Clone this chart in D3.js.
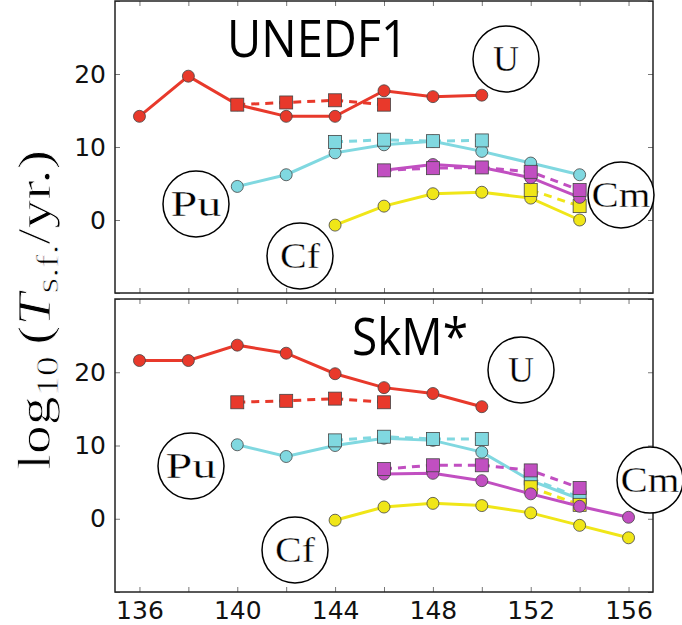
<!DOCTYPE html>
<html><head><meta charset="utf-8">
<script src="https://cdn.jsdelivr.net/npm/d3@7"></script>
<style>body{margin:0;background:#fff}svg{display:block}</style>
</head><body>
<script>
// ---------- data ----------
const xTicks = [136,138,140,142,144,146,148,150,152,154,156];
const xLabels = [136,140,144,148,152,156];
const yTicks = [-10,0,10,20,30];
const yLabels = [0,10,20];
const panelTitles = ["UNEDF1","SkM*"];
const elements = ["U","Pu","Cf","Cm"];
const colors = ["#e8392b","#80d8e0","#f0e618","#c14fc1"]; // U, Pu, Cf, Cm

// UNEDF1 panel
const un_U_circ_N = [136,138,140,142,144,146,148,150];
const un_U_circ_v = [14.2,19.7,15.8,14.2,14.2,17.7,16.9,17.1];
const un_U_sq_N = [140,142,144,146];
const un_U_sq_v = [15.8,16.1,16.4,15.8];
const un_Pu_circ_N = [140,142,144,146,148,150,152,154];
const un_Pu_circ_v = [4.6,6.2,9.2,10.3,10.8,9.4,7.8,6.2];
const un_Pu_sq_N = [144,146,148,150];
const un_Pu_sq_v = [10.7,11.0,10.8,10.9];
const un_Cf_circ_N = [144,146,148,150,152,154];
const un_Cf_circ_v = [-0.7,1.9,3.6,3.8,3.0,0.0];
const un_Cf_sq_N = [152,154];
const un_Cf_sq_v = [4.1,1.9];
const un_Cm_circ_N = [146,148,150,152,154];
const un_Cm_circ_v = [6.8,7.6,7.2,5.8,3.1];
const un_Cm_sq_N = [146,148,150,152,154];
const un_Cm_sq_v = [6.8,7.1,7.2,6.6,4.1];

// SkM* panel
const sk_U_circ_N = [136,138,140,142,144,146,148,150];
const sk_U_circ_v = [21.6,21.6,23.7,22.6,19.8,17.9,17.1,15.3];
const sk_U_sq_N = [140,142,144,146];
const sk_U_sq_v = [15.9,16.1,16.4,15.9];
const sk_Pu_circ_N = [140,142,144,146,148,150,152,154];
const sk_Pu_circ_v = [10.1,8.5,10.0,11.0,10.7,9.1,5.2,2.7];
const sk_Pu_sq_N = [144,146,148,150];
const sk_Pu_sq_v = [10.7,11.2,10.9,10.9];
const sk_Pu_sq2_N = [152,154];
const sk_Pu_sq2_v = [5.5,2.9];
const sk_Cf_circ_N = [144,146,148,150,152,154,156];
const sk_Cf_circ_v = [-0.2,1.6,2.1,1.8,0.8,-0.9,-2.6];
const sk_Cf_sq_N = [152,154];
const sk_Cf_sq_v = [4.3,1.9];
const sk_Cm_circ_N = [146,148,150,152,154,156];
const sk_Cm_circ_v = [6.1,6.2,5.2,3.4,1.7,0.2];
const sk_Cm_sq_N = [146,148,150,152,154];
const sk_Cm_sq_v = [6.8,7.3,7.3,6.6,4.2];

const zip = (N, v) => N.map((n, i) => ({N: n, v: v[i]}));

const panels = [
  { title: panelTitles[0], series: [
      {el:0, type:"circ", pts: zip(un_U_circ_N, un_U_circ_v)},
      {el:0, type:"sq", pts: zip(un_U_sq_N, un_U_sq_v)},
      {el:1, type:"circ", pts: zip(un_Pu_circ_N, un_Pu_circ_v)},
      {el:1, type:"sq", pts: zip(un_Pu_sq_N, un_Pu_sq_v)},
      {el:2, type:"circ", pts: zip(un_Cf_circ_N, un_Cf_circ_v)},
      {el:2, type:"sq", pts: zip(un_Cf_sq_N, un_Cf_sq_v)},
      {el:3, type:"circ", pts: zip(un_Cm_circ_N, un_Cm_circ_v)},
      {el:3, type:"sq", pts: zip(un_Cm_sq_N, un_Cm_sq_v)}
    ],
    tags: [{t:elements[0], cx:506, cy:59, w:26},{t:elements[1], cx:196, cy:204, w:51},{t:elements[2], cx:300, cy:256, w:40},{t:elements[3], cx:621, cy:195, w:59}],
    titleX: 227, titleY: 57, titleW: 181
  },
  { title: panelTitles[1], series: [
      {el:0, type:"circ", pts: zip(sk_U_circ_N, sk_U_circ_v)},
      {el:0, type:"sq", pts: zip(sk_U_sq_N, sk_U_sq_v)},
      {el:1, type:"circ", pts: zip(sk_Pu_circ_N, sk_Pu_circ_v)},
      {el:1, type:"sq", pts: zip(sk_Pu_sq_N, sk_Pu_sq_v)},
      {el:1, type:"sq", pts: zip(sk_Pu_sq2_N, sk_Pu_sq2_v)},
      {el:2, type:"circ", pts: zip(sk_Cf_circ_N, sk_Cf_circ_v)},
      {el:2, type:"sq", pts: zip(sk_Cf_sq_N, sk_Cf_sq_v)},
      {el:3, type:"circ", pts: zip(sk_Cm_circ_N, sk_Cm_circ_v)},
      {el:3, type:"sq", pts: zip(sk_Cm_sq_N, sk_Cm_sq_v)}
    ],
    tags: [{t:elements[0], cx:521, cy:370, w:26},{t:elements[1], cx:191, cy:466, w:51},{t:elements[2], cx:295, cy:550, w:40},{t:elements[3], cx:650, cy:480, w:59}],
    titleX: 352, titleY: 355, titleW: 116
  }
];

// ---------- layout ----------
const W = 682, H = 625;
const left = 115, right = 653;
const panelY = [[1, 293], [299, 592]];

const svg = d3.select("body").append("svg").attr("width", W).attr("height", H);
const x = d3.scaleLinear().domain([135, 157]).range([left, right]);

panels.forEach((p, pi) => {
  const [top, bot] = panelY[pi];
  const y = d3.scaleLinear().domain([-10, 30]).range([bot, top]);
  const g = svg.append("g");

  const tickLen = 5;
  const axL = d3.axisLeft(y).tickValues(yTicks).tickSize(-tickLen).tickFormat(d => yLabels.includes(d) ? d : "").tickPadding(9);
  const axR = d3.axisRight(y).tickValues(yTicks).tickSize(-tickLen).tickFormat("");
  const axB = d3.axisBottom(x).tickValues(xTicks).tickSize(-tickLen).tickFormat(d => (pi === 1 && xLabels.includes(d)) ? d : "").tickPadding(9);
  const axT = d3.axisTop(x).tickValues(xTicks).tickSize(-tickLen).tickFormat("");
  [[axL, `translate(${left},0)`], [axR, `translate(${right},0)`], [axB, `translate(0,${bot})`], [axT, `translate(0,${top})`]]
    .forEach(([ax, tr]) => {
      const a = g.append("g").attr("transform", tr).call(ax);
      a.select(".domain").remove();
      a.selectAll(".tick line").attr("stroke", "#555").attr("stroke-width", 0.8);
      a.selectAll(".tick text").attr("font-family", "DejaVu Sans").attr("font-size", 25).attr("fill", "#111");
    });

  g.append("text").attr("x", p.titleX).attr("y", p.titleY)
    .attr("font-family", "Open Sans").attr("font-size", 52)
    .attr("textLength", p.titleW).attr("lengthAdjust", "spacingAndGlyphs")
    .attr("fill", "#000").text(p.title);

  const line = d3.line().x(d => x(d.N)).y(d => y(d.v));
  p.series.forEach(s => {
    const col = colors[s.el];
    g.append("path").attr("d", line(s.pts)).attr("fill", "none")
      .attr("stroke", col).attr("stroke-width", 3)
      .attr("stroke-dasharray", s.type === "sq" ? "8,6" : null);
    if (s.type === "circ") {
      g.selectAll(null).data(s.pts).enter().append("circle")
        .attr("cx", d => x(d.N)).attr("cy", d => y(d.v)).attr("r", 6)
        .attr("fill", col).attr("stroke", "#444").attr("stroke-width", 0.8);
    } else {
      g.selectAll(null).data(s.pts).enter().append("rect")
        .attr("x", d => x(d.N) - 6.5).attr("y", d => y(d.v) - 6.5)
        .attr("width", 13).attr("height", 13)
        .attr("fill", col).attr("stroke", "#444").attr("stroke-width", 0.8);
    }
  });

  g.append("rect").attr("x", left).attr("y", top).attr("width", right - left).attr("height", bot - top)
    .attr("fill", "none").attr("stroke", "#222").attr("stroke-width", 1.5);

  p.tags.forEach(t => {
    g.append("circle").attr("cx", t.cx).attr("cy", t.cy).attr("r", 33)
      .attr("fill", "#fff").attr("stroke", "#000").attr("stroke-width", 1.5);
    g.append("text").attr("x", t.cx).attr("y", t.cy + 12).attr("text-anchor", "middle")
      .attr("font-family", "Liberation Serif").attr("font-size", 36)
      .attr("textLength", t.w).attr("lengthAdjust", "spacingAndGlyphs")
      .attr("stroke", "#fff").attr("stroke-width", 0.35)
      .attr("fill", "#000").text(t.t);
  });
});

const yl = svg.append("text")
  .attr("transform", "translate(50,310) rotate(-90)")
  .attr("text-anchor", "middle")
  .attr("font-family", "Liberation Serif").attr("font-size", 46)
  .attr("textLength", 320).attr("lengthAdjust", "spacingAndGlyphs")
  .attr("stroke", "#fff").attr("stroke-width", 0.8)
  .attr("fill", "#000");
yl.append("tspan").text("log");
yl.append("tspan").attr("font-size", 32).attr("dy", 8).text("10");
yl.append("tspan").attr("dy", -8).text("\u2009(");
yl.append("tspan").attr("font-style", "italic").text("T");
yl.append("tspan").attr("font-size", 32).attr("dy", 8).text("s.f.");
yl.append("tspan").attr("dy", -8).text("/yr.)");
</script>
</body></html>
